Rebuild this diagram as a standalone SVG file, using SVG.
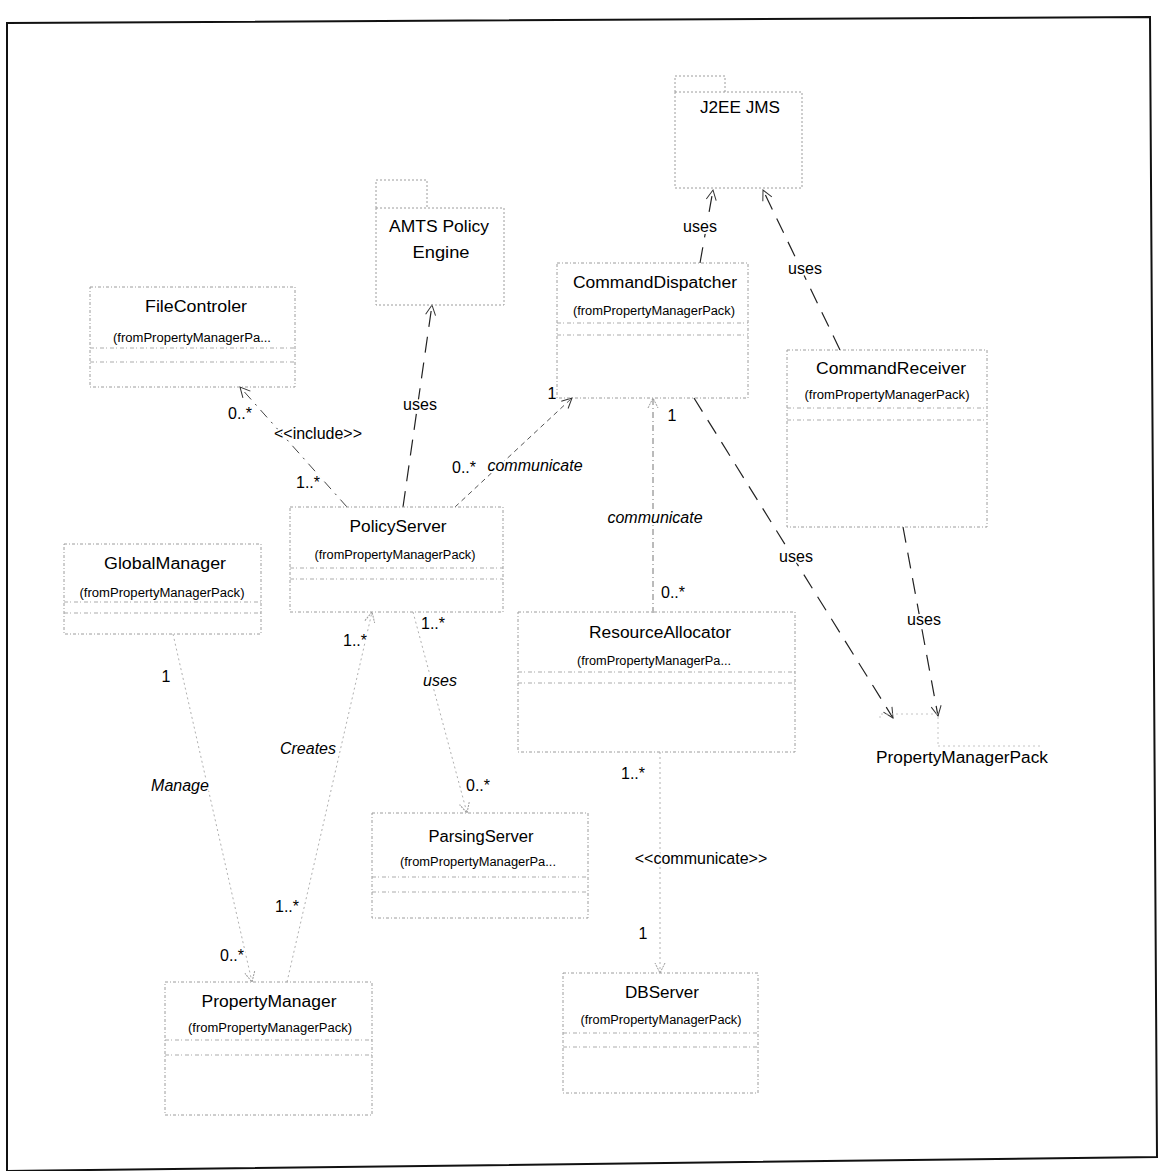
<svg xmlns="http://www.w3.org/2000/svg" width="1158" height="1171" viewBox="0 0 1158 1171">
  <style>
    .frame { fill: none; stroke: #111; stroke-width: 2; }
    .box { fill: none; stroke: #9c9c9c; stroke-width: 1; stroke-dasharray: 3 2 1 2; }
    .sep { fill: none; stroke: #ababab; stroke-width: 1; stroke-dasharray: 4 2 1 3; }
    .pkg { fill: none; stroke: #9c9c9c; stroke-width: 1; stroke-dasharray: 2 2; }
    .faintpkg { fill: none; stroke: #c4c4c4; stroke-width: 1; stroke-dasharray: 2 3; }
    .uses { fill: none; stroke: #222; stroke-width: 1.2; stroke-dasharray: 16 10; }
    .incl { fill: none; stroke: #444; stroke-width: 1; stroke-dasharray: 10 6 2 6; }
    .comm { fill: none; stroke: #555; stroke-width: 1; stroke-dasharray: 5 4; }
    .commv { fill: none; stroke: #777; stroke-width: 1; stroke-dasharray: 6 3 1 3; }
    .faint { fill: none; stroke: #b0b0b0; stroke-width: 1; stroke-dasharray: 2 3; }
    text { font-family: "Liberation Sans", Arial, sans-serif; fill: #000; }
    .name { font-size: 16px; text-anchor: middle; }
    .from { font-size: 12px; text-anchor: middle; }
    .lbl { font-size: 16px; text-anchor: middle; paint-order: stroke; stroke: #fff; stroke-width: 4px; stroke-linejoin: round; }
    .it { font-style: italic; }
  </style>
  <defs>
    <marker id="arrowDark" viewBox="0 0 12 12" refX="11" refY="6" markerWidth="12" markerHeight="12" markerUnits="userSpaceOnUse" orient="auto">
      <path d="M1,1 L11,6 L1,11" fill="none" stroke="#333" stroke-width="1"/>
    </marker>
    <marker id="arrowLight" viewBox="0 0 12 12" refX="11" refY="6" markerWidth="12" markerHeight="12" markerUnits="userSpaceOnUse" orient="auto">
      <path d="M1,1 L11,6 L1,11" fill="none" stroke="#999" stroke-width="1" stroke-dasharray="2 1"/>
    </marker>
  </defs>

  <rect x="0" y="0" width="1158" height="1171" fill="#fff"/>
  <path class="frame" d="M7,23 L1150,17 L1157,1157 L7,1171 Z"/>

  <!-- connectors -->
  <g id="connectors">
    <path class="uses" d="M700,263 L713,190" marker-end="url(#arrowDark)"/>
    <path class="uses" d="M840,350 L763,190" marker-end="url(#arrowDark)"/>
    <path class="uses" d="M403,507 L432,305" marker-end="url(#arrowDark)"/>
    <path class="incl" d="M347,507 L240,387" marker-end="url(#arrowDark)"/>
    <path class="comm" d="M455,507 L572,398" marker-end="url(#arrowDark)"/>
    <path class="commv" d="M653,613 L653,398" marker-end="url(#arrowLight)"/>
    <path class="uses" d="M694,398 L893,718" marker-end="url(#arrowDark)"/>
    <path class="uses" d="M903,527 L938,716" marker-end="url(#arrowDark)"/>
    <path class="faint" d="M173,634 L252,982" marker-end="url(#arrowLight)"/>
    <path class="faint" d="M287,982 L372,612" marker-end="url(#arrowLight)"/>
    <path class="faint" d="M413,612 L467,813" marker-end="url(#arrowLight)"/>
    <path class="faint" d="M660,752 L660,973" marker-end="url(#arrowLight)"/>

    <text class="lbl" x="700" y="232">uses</text>
    <text class="lbl" x="805" y="274">uses</text>
    <text class="lbl" x="420" y="410">uses</text>
    <text class="lbl" x="240" y="419">0..*</text>
    <text class="lbl" x="318" y="439">&lt;&lt;include&gt;&gt;</text>
    <text class="lbl" x="308" y="488">1..*</text>
    <text class="lbl" x="464" y="473">0..*</text>
    <text class="lbl it" x="535" y="471">communicate</text>
    <text class="lbl" x="552" y="399">1</text>
    <text class="lbl" x="672" y="421">1</text>
    <text class="lbl it" x="655" y="523">communicate</text>
    <text class="lbl" x="673" y="598">0..*</text>
    <text class="lbl" x="796" y="562">uses</text>
    <text class="lbl" x="924" y="625">uses</text>
    <text class="lbl" x="166" y="682">1</text>
    <text class="lbl it" x="180" y="791">Manage</text>
    <text class="lbl" x="232" y="961">0..*</text>
    <text class="lbl" x="355" y="646">1..*</text>
    <text class="lbl it" x="308" y="754">Creates</text>
    <text class="lbl" x="287" y="912">1..*</text>
    <text class="lbl" x="433" y="629">1..*</text>
    <text class="lbl it" x="440" y="686">uses</text>
    <text class="lbl" x="478" y="791">0..*</text>
    <text class="lbl" x="633" y="779">1..*</text>
    <text class="lbl" x="701" y="864">&lt;&lt;communicate&gt;&gt;</text>
    <text class="lbl" x="643" y="939">1</text>
  </g>

  <!-- packages -->
  <g id="J2EEJMS">
    <path class="pkg" d="M675,92 L675,76 L725,76 L725,92 M675,92 L802,92 L802,188 L675,188 Z"/>
    <text class="name" x="740" y="113" textLength="80" lengthAdjust="spacingAndGlyphs">J2EE JMS</text>
  </g>

  <g id="AMTSPolicyEngine">
    <path class="pkg" d="M376,208 L376,180 L427,180 L427,208 M376,208 L504,208 L504,305 L376,305 Z"/>
    <text class="name" x="439" y="232" textLength="100" lengthAdjust="spacingAndGlyphs">AMTS Policy</text>
    <text class="name" x="441" y="258" textLength="57" lengthAdjust="spacingAndGlyphs">Engine</text>
  </g>

  <g id="PropertyManagerPack">
    <path class="faintpkg" d="M880,718 L880,714 L938,714 L938,746 M938,746 L1042,746"/>
    <text class="name" x="962" y="763" textLength="172" lengthAdjust="spacingAndGlyphs">PropertyManagerPack</text>
  </g>

  <!-- classes -->
  <g id="CommandDispatcher">
    <rect class="box" x="557" y="263" width="191" height="135"/>
    <path class="sep" d="M557,323 H748 M557,335 H748"/>
    <text class="name" x="655" y="288" textLength="164" lengthAdjust="spacingAndGlyphs">CommandDispatcher</text>
    <text class="from" x="654" y="315" textLength="162" lengthAdjust="spacingAndGlyphs">(fromPropertyManagerPack)</text>
  </g>

  <g id="CommandReceiver">
    <rect class="box" x="787" y="350" width="200" height="177"/>
    <path class="sep" d="M787,408 H987 M787,420 H987"/>
    <text class="name" x="891" y="374" textLength="150" lengthAdjust="spacingAndGlyphs">CommandReceiver</text>
    <text class="from" x="887" y="399" textLength="165" lengthAdjust="spacingAndGlyphs">(fromPropertyManagerPack)</text>
  </g>

  <g id="FileControler">
    <rect class="box" x="90" y="287" width="205" height="100"/>
    <path class="sep" d="M90,348 H295 M90,362 H295"/>
    <text class="name" x="196" y="312" textLength="102" lengthAdjust="spacingAndGlyphs">FileControler</text>
    <text class="from" x="192" y="342" textLength="158" lengthAdjust="spacingAndGlyphs">(fromPropertyManagerPa...</text>
  </g>

  <g id="PolicyServer">
    <rect class="box" x="290" y="507" width="213" height="105"/>
    <path class="sep" d="M290,568 H503 M290,579 H503"/>
    <text class="name" x="398" y="532" textLength="97" lengthAdjust="spacingAndGlyphs">PolicyServer</text>
    <text class="from" x="395" y="559" textLength="161" lengthAdjust="spacingAndGlyphs">(fromPropertyManagerPack)</text>
  </g>

  <g id="GlobalManager">
    <rect class="box" x="64" y="544" width="197" height="90"/>
    <path class="sep" d="M64,602 H261 M64,613 H261"/>
    <text class="name" x="165" y="569" textLength="122" lengthAdjust="spacingAndGlyphs">GlobalManager</text>
    <text class="from" x="162" y="597" textLength="165" lengthAdjust="spacingAndGlyphs">(fromPropertyManagerPack)</text>
  </g>

  <g id="ResourceAllocator">
    <rect class="box" x="518" y="612" width="277" height="140"/>
    <path class="sep" d="M518,672 H795 M518,683 H795"/>
    <text class="name" x="660" y="638" textLength="142" lengthAdjust="spacingAndGlyphs">ResourceAllocator</text>
    <text class="from" x="654" y="665" textLength="154" lengthAdjust="spacingAndGlyphs">(fromPropertyManagerPa...</text>
  </g>

  <g id="ParsingServer">
    <rect class="box" x="372" y="813" width="216" height="105"/>
    <path class="sep" d="M372,877 H588 M372,892 H588"/>
    <text class="name" x="481" y="842" textLength="105" lengthAdjust="spacingAndGlyphs">ParsingServer</text>
    <text class="from" x="478" y="866" textLength="156" lengthAdjust="spacingAndGlyphs">(fromPropertyManagerPa...</text>
  </g>

  <g id="DBServer">
    <rect class="box" x="563" y="973" width="195" height="120"/>
    <path class="sep" d="M563,1033 H758 M563,1047 H758"/>
    <text class="name" x="662" y="998" textLength="74" lengthAdjust="spacingAndGlyphs">DBServer</text>
    <text class="from" x="661" y="1024" textLength="161" lengthAdjust="spacingAndGlyphs">(fromPropertyManagerPack)</text>
  </g>

  <g id="PropertyManager">
    <rect class="box" x="165" y="982" width="207" height="133"/>
    <path class="sep" d="M165,1040 H372 M165,1055 H372"/>
    <text class="name" x="269" y="1007" textLength="135" lengthAdjust="spacingAndGlyphs">PropertyManager</text>
    <text class="from" x="270" y="1032" textLength="164" lengthAdjust="spacingAndGlyphs">(fromPropertyManagerPack)</text>
  </g>
</svg>
